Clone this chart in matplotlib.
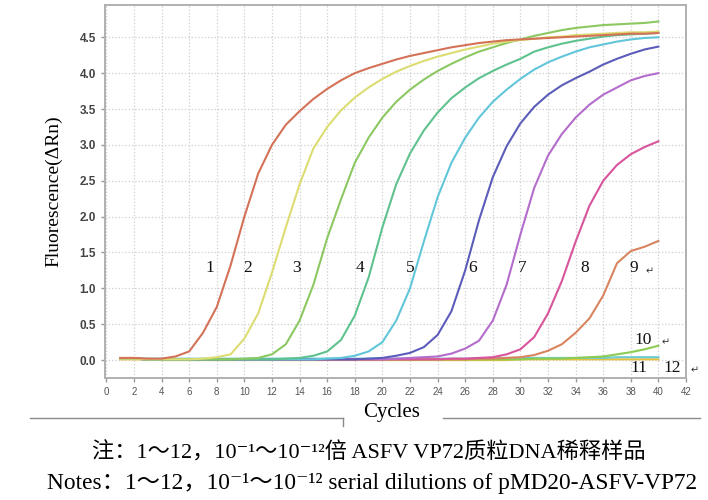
import matplotlib
matplotlib.use('Agg')
import matplotlib.pyplot as plt
import numpy as np
from matplotlib.ticker import MultipleLocator
from matplotlib.lines import Line2D

# cycles 1..40
cycles = list(range(1, 41))

# fluorescence (dRn), one list per dilution
s1 = [0.03, 0.03, 0.02, 0.02, 0.05, 0.12, 0.38, 0.74, 1.32, 2.00,
      2.60, 3.00, 3.28, 3.47, 3.64, 3.78, 3.90, 4.00, 4.07, 4.13,
      4.19, 4.24, 4.28, 4.32, 4.36, 4.39, 4.42, 4.44, 4.46, 4.47,
      4.48, 4.49, 4.50, 4.51, 4.52, 4.53, 4.54, 4.55, 4.55, 4.56]
s2 = [0.02, 0.02, 0.01, 0.01, 0.01, 0.01, 0.02, 0.04, 0.08, 0.30,
      0.65, 1.22, 1.85, 2.45, 2.95, 3.25, 3.48, 3.66, 3.80, 3.92,
      4.02, 4.10, 4.17, 4.23, 4.28, 4.33, 4.37, 4.41, 4.44, 4.46,
      4.48, 4.50, 4.51, 4.53, 4.54, 4.55, 4.56, 4.57, 4.57, 4.58]
s3 = [0.02, 0.02, 0.01, 0.01, 0.01, 0.01, 0.01, 0.01, 0.01, 0.02,
      0.03, 0.08, 0.22, 0.55, 1.05, 1.70, 2.24, 2.75, 3.10, 3.38,
      3.60, 3.77, 3.91, 4.03, 4.13, 4.22, 4.30, 4.36, 4.42, 4.47,
      4.52, 4.56, 4.60, 4.63, 4.65, 4.67, 4.68, 4.69, 4.70, 4.72]
s4 = [0.02, 0.02, 0.01, 0.01, 0.01, 0.01, 0.01, 0.01, 0.01, 0.01,
      0.01, 0.01, 0.02, 0.03, 0.06, 0.12, 0.28, 0.62, 1.15, 1.85,
      2.45, 2.88, 3.20, 3.45, 3.65, 3.80, 3.93, 4.03, 4.12, 4.20,
      4.30, 4.36, 4.41, 4.45, 4.48, 4.51, 4.53, 4.54, 4.55, 4.56]
s5 = [0.02, 0.02, 0.01, 0.01, 0.01, 0.01, 0.01, 0.01, 0.01, 0.01,
      0.01, 0.01, 0.01, 0.01, 0.01, 0.02, 0.03, 0.06, 0.12, 0.25,
      0.55, 1.00, 1.65, 2.27, 2.75, 3.10, 3.38, 3.60, 3.77, 3.92,
      4.05, 4.15, 4.23, 4.30, 4.36, 4.40, 4.44, 4.47, 4.49, 4.50]
s6 = [0.02, 0.02, 0.01, 0.01, 0.01, 0.01, 0.01, 0.01, 0.01, 0.01,
      0.01, 0.01, 0.01, 0.01, 0.01, 0.01, 0.01, 0.01, 0.02, 0.03,
      0.06, 0.10, 0.18, 0.35, 0.68, 1.25, 1.95, 2.55, 2.98, 3.30,
      3.53, 3.70, 3.83, 3.93, 4.02, 4.12, 4.20, 4.27, 4.33, 4.37]
s7 = [0.02, 0.02, 0.01, 0.01, 0.01, 0.01, 0.01, 0.01, 0.01, 0.01,
      0.01, 0.01, 0.01, 0.01, 0.01, 0.01, 0.01, 0.01, 0.01, 0.01,
      0.02, 0.03, 0.04, 0.05, 0.09, 0.16, 0.27, 0.55, 1.05, 1.75,
      2.40, 2.85, 3.15, 3.38, 3.56, 3.70, 3.80, 3.90, 3.96, 4.00]
s8 = [0.02, 0.02, 0.01, 0.01, 0.01, 0.01, 0.01, 0.01, 0.01, 0.01,
      0.01, 0.01, 0.01, 0.01, 0.01, 0.01, 0.01, 0.01, 0.01, 0.01,
      0.01, 0.01, 0.01, 0.01, 0.02, 0.02, 0.03, 0.04, 0.08, 0.15,
      0.32, 0.65, 1.10, 1.65, 2.15, 2.50, 2.72, 2.87, 2.97, 3.05]
s9 = [0.02, 0.02, 0.01, 0.01, 0.01, 0.01, 0.01, 0.01, 0.01, 0.01,
      0.01, 0.01, 0.01, 0.01, 0.01, 0.01, 0.01, 0.01, 0.01, 0.01,
      0.01, 0.01, 0.01, 0.01, 0.01, 0.01, 0.02, 0.02, 0.03, 0.04,
      0.07, 0.13, 0.22, 0.38, 0.58, 0.90, 1.35, 1.52, 1.58, 1.66]
s10 = [0.02, 0.02, 0.01, 0.01, 0.01, 0.01, 0.01, 0.01, 0.01, 0.01,
       0.01, 0.01, 0.01, 0.01, 0.01, 0.01, 0.01, 0.01, 0.01, 0.01,
       0.01, 0.01, 0.01, 0.01, 0.01, 0.01, 0.01, 0.01, 0.01, 0.01,
       0.02, 0.02, 0.02, 0.03, 0.04, 0.05, 0.08, 0.11, 0.15, 0.20]
s11 = [0.02, 0.02, 0.02, 0.02, 0.02, 0.02, 0.02, 0.02, 0.02, 0.02,
       0.02, 0.02, 0.02, 0.02, 0.02, 0.02, 0.02, 0.02, 0.02, 0.02,
       0.02, 0.02, 0.02, 0.02, 0.02, 0.02, 0.02, 0.03, 0.03, 0.03,
       0.03, 0.03, 0.03, 0.03, 0.03, 0.03, 0.04, 0.04, 0.04, 0.04]
s12 = [0.01, 0.01, 0.01, 0.00, 0.00, 0.00, 0.00, 0.00, 0.00, 0.00,
       0.00, 0.00, 0.00, 0.00, 0.00, 0.00, 0.00, 0.00, 0.00, 0.00,
       0.00, 0.00, 0.00, 0.00, 0.00, 0.00, 0.00, 0.00, 0.00, 0.01,
       0.01, 0.01, 0.01, 0.01, 0.01, 0.01, 0.01, 0.01, 0.01, 0.01]

series = [s1, s2, s3, s4, s5, s6, s7, s8, s9, s10, s11, s12]
colors = ['#d47258', '#dcdc72', '#8cc862', '#5fc28e', '#62c6da', '#5c5cba',
          '#b46ccc', '#d8549c', '#d8845e', '#8ccc52', '#6ccad2', '#e6c23a']

# curve labels: text, x (cycle), y (dRn)
labels = ['1', '2', '3', '4', '5', '6', '7', '8', '9', '10', '11', '12']
label_x = [7.5, 10.2, 13.8, 18.35, 22.0, 26.5, 30.1, 34.65, 38.2, 38.9, 38.6, 41.0]
label_y = [1.28, 1.28, 1.28, 1.28, 1.28, 1.28, 1.28, 1.28, 1.28, 0.28, -0.11, -0.11]
has_arrow = [False] * 8 + [True, True, False, True]

serif = ['Liberation Serif', 'DejaVu Serif', 'Noto Sans CJK SC']

fig = plt.figure(figsize=(7.08, 5.0), dpi=100)
ax = fig.add_axes([105 / 708, 122 / 500, 581 / 708, 373 / 500])

for s, c in zip(reversed(series), reversed(colors)):
    ax.plot(cycles, s, color=c, linewidth=1.5)

for t, x, y, arr in zip(labels, label_x, label_y, has_arrow):
    ax.text(x, y, t, ha='center', va='center', fontsize=12.5,
            family=serif, color='#111111')
    if arr:
        ax.annotate('\u21b5', (x, y), xytext=(4 + 4.5 * len(t), -2),
                    textcoords='offset points', ha='left', va='center',
                    fontsize=7, family=['DejaVu Sans'], color='#333333')

ax.set_xlim(-0.1, 42)
ax.set_ylim(-0.25, 4.95)
ax.xaxis.set_major_locator(MultipleLocator(2))
ax.yaxis.set_major_locator(MultipleLocator(0.5))
ax.yaxis.set_major_formatter(matplotlib.ticker.FormatStrFormatter('%.1f'))
ax.grid(True, linestyle=':', color='#cfcfcf', linewidth=0.9)
ax.set_axisbelow(True)
for sp in ax.spines.values():
    sp.set_color('#b0b0b0')
    sp.set_linewidth(1.4)
ax.tick_params(axis='both', colors='#999999', length=3, width=1)
for lab in ax.get_yticklabels():
    lab.set_fontsize(8.5)
    lab.set_color('#444444')
    lab.set_family('Liberation Sans')
    lab.set_fontweight('bold')
for lab in ax.get_xticklabels():
    lab.set_fontsize(7)
    lab.set_color('#555555')
    lab.set_family('Liberation Sans')

ax.set_ylabel('Fluorescence(\u0394Rn)', fontsize=14, family=serif, labelpad=12)

# "Cycles" with the rules either side
fig.text(392 / 708, 1 - 412 / 500, 'Cycles', ha='center', va='center',
         fontsize=15, family=serif)
fig.add_artist(Line2D([30 / 708, 343 / 708], [1 - 418 / 500, 1 - 418 / 500],
                      color='#8a8a8a', linewidth=1))
fig.add_artist(Line2D([343 / 708, 343 / 708], [1 - 418 / 500, 1 - 426 / 500],
                      color='#8a8a8a', linewidth=1))
fig.add_artist(Line2D([443 / 708, 700 / 708], [1 - 418 / 500, 1 - 418 / 500],
                      color='#8a8a8a', linewidth=1))

note_cn = '注：1～12，10⁻¹～10⁻¹²倍 ASFV VP72质粒DNA稀释样品'
note_en = 'Notes：1～12，10⁻¹～10⁻¹² serial dilutions of pMD20-ASFV-VP72'
fig.text(369 / 708, 1 - 453 / 500, note_cn, ha='center', va='center',
         fontsize=16, family=serif)
fig.text(372 / 708, 1 - 483 / 500, note_en, ha='center', va='center',
         fontsize=16.8, family=serif)

fig.savefig('out.png', dpi=100)
